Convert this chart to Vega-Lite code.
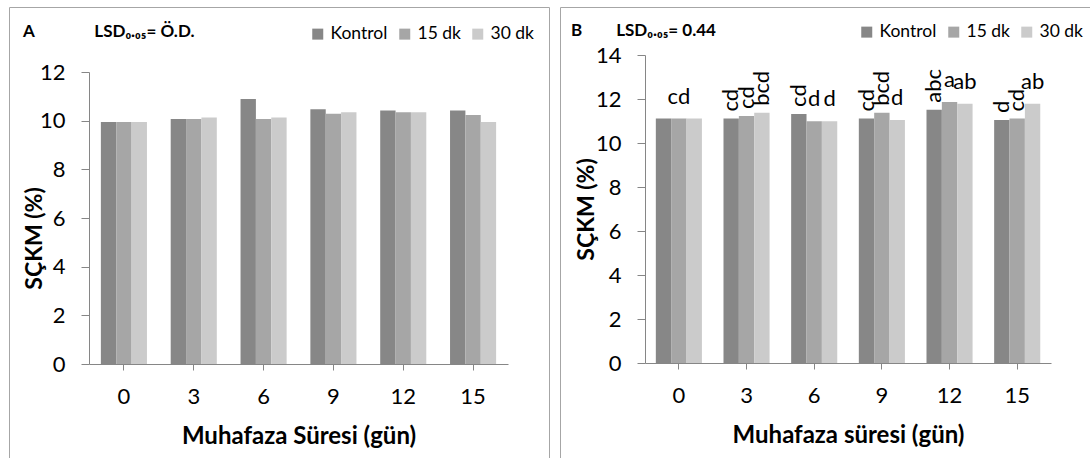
{
  "$schema": "https://vega.github.io/schema/vega-lite/v6.json",
  "padding": {"left": 8, "top": 6, "right": 0, "bottom": 0},
  "autosize": {"type": "pad"},
  "spacing": 9,
  "background": "white",
  "resolve": {"scale": {"color": "independent"}, "legend": {"color": "independent"}},
  "datasets": {
    "A": [
      {"gun": "0", "grup": "Kontrol", "deger": 9.95},
      {"gun": "0", "grup": "15 dk", "deger": 9.95},
      {"gun": "0", "grup": "30 dk", "deger": 9.95},
      {"gun": "3", "grup": "Kontrol", "deger": 10.07},
      {"gun": "3", "grup": "15 dk", "deger": 10.07},
      {"gun": "3", "grup": "30 dk", "deger": 10.13},
      {"gun": "6", "grup": "Kontrol", "deger": 10.89},
      {"gun": "6", "grup": "15 dk", "deger": 10.07},
      {"gun": "6", "grup": "30 dk", "deger": 10.13},
      {"gun": "9", "grup": "Kontrol", "deger": 10.47},
      {"gun": "9", "grup": "15 dk", "deger": 10.28},
      {"gun": "9", "grup": "30 dk", "deger": 10.35},
      {"gun": "12", "grup": "Kontrol", "deger": 10.42},
      {"gun": "12", "grup": "15 dk", "deger": 10.35},
      {"gun": "12", "grup": "30 dk", "deger": 10.35},
      {"gun": "15", "grup": "Kontrol", "deger": 10.42},
      {"gun": "15", "grup": "15 dk", "deger": 10.23},
      {"gun": "15", "grup": "30 dk", "deger": 9.95}
    ],
    "B": [
      {"gun": "0", "grup": "Kontrol", "deger": 11.11, "harf": "", "yon": "yok"},
      {"gun": "0", "grup": "15 dk", "deger": 11.11, "harf": "cd", "yon": "yatay"},
      {"gun": "0", "grup": "30 dk", "deger": 11.11, "harf": "", "yon": "yok"},
      {"gun": "3", "grup": "Kontrol", "deger": 11.11, "harf": "cd", "yon": "dikey"},
      {"gun": "3", "grup": "15 dk", "deger": 11.23, "harf": "cd", "yon": "dikey"},
      {"gun": "3", "grup": "30 dk", "deger": 11.37, "harf": "bcd", "yon": "dikey"},
      {"gun": "6", "grup": "Kontrol", "deger": 11.32, "harf": "cd", "yon": "dikey"},
      {"gun": "6", "grup": "15 dk", "deger": 10.99, "harf": "d", "yon": "yatay"},
      {"gun": "6", "grup": "30 dk", "deger": 10.99, "harf": "d", "yon": "yatay"},
      {"gun": "9", "grup": "Kontrol", "deger": 11.11, "harf": "cd", "yon": "dikey"},
      {"gun": "9", "grup": "15 dk", "deger": 11.37, "harf": "bcd", "yon": "dikey"},
      {"gun": "9", "grup": "30 dk", "deger": 11.05, "harf": "d", "yon": "yatay"},
      {"gun": "12", "grup": "Kontrol", "deger": 11.51, "harf": "abc", "yon": "dikey"},
      {"gun": "12", "grup": "15 dk", "deger": 11.86, "harf": "a", "yon": "yatay"},
      {"gun": "12", "grup": "30 dk", "deger": 11.78, "harf": "ab", "yon": "yatay"},
      {"gun": "15", "grup": "Kontrol", "deger": 11.05, "harf": "d", "yon": "dikey"},
      {"gun": "15", "grup": "15 dk", "deger": 11.11, "harf": "cd", "yon": "dikey"},
      {"gun": "15", "grup": "30 dk", "deger": 11.78, "harf": "ab", "yon": "yatay"}
    ]
  },
  "config": {
    "font": "Lato",
    "view": {"stroke": "#a6a6a6", "strokeWidth": 1},
    "axis": {
      "grid": false,
      "domainColor": "#868686",
      "tickColor": "#868686",
      "labelColor": "black",
      "titleColor": "black",
      "labelFont": "Lato",
      "titleFont": "Lato",
      "labelFontSize": 22,
      "titleFontSize": 23,
      "titleFontWeight": "bold",
      "labelFontWeight": "normal"
    },
    "legend": {
      "orient": "none",
      "direction": "horizontal",
      "symbolType": "square",
      "symbolSize": 121,
      "symbolStrokeWidth": 0,
      "symbolOpacity": 1,
      "labelFont": "Lato",
      "labelFontSize": 17.5,
      "labelColor": "black",
      "labelOffset": 4,
      "columnPadding": 8,
      "padding": 0,
      "title": null
    },
    "title": {
      "font": "Lato",
      "fontSize": 17,
      "fontWeight": "bold",
      "color": "black",
      "anchor": "start",
      "frame": "group",
      "offset": 0,
      "baseline": "alphabetic"
    }
  },
  "hconcat": [
    {
      "width": 540,
      "height": 451,
      "title": {"text": "A\u2003\u2003\u2003\u2003\u2002LSD₀.₀₅= Ö.D.", "dx": 14, "dy": 38, "fontSize": 17},
      "data": {"name": "A"},
      "mark": {"type": "bar"},
      "encoding": {
        "x": {
          "field": "gun", "type": "nominal", "sort": ["0", "3", "6", "9", "12", "15"],
          "scale": {"range": [80, 499], "paddingInner": 0.34, "paddingOuter": 0.17},
          "axis": {"orient": "bottom", "offset": -94, "labelAngle": 0, "tickSize": 6, "labelPadding": 16, "titlePadding": 17, "titleFontSize": 24, "title": "Muhafaza Süresi (gün)"}
        },
        "xOffset": {
          "field": "grup", "type": "nominal",
          "scale": {"domain": ["Kontrol", "15 dk", "30 dk"], "paddingInner": 0, "paddingOuter": 0}
        },
        "y": {
          "field": "deger", "type": "quantitative",
          "scale": {"domain": [0, 12], "range": [357, 65], "nice": false, "zero": true},
          "axis": {"orient": "left", "offset": -80, "values": [0, 2, 4, 6, 8, 10, 12], "tickSize": 8, "labelPadding": 16, "title": "SÇKM (%)", "titleX": -43, "titleY": 231}
        },
        "color": {
          "field": "grup", "type": "nominal",
          "scale": {"domain": ["Kontrol", "15 dk", "30 dk"], "range": ["#878787", "#a6a6a6", "#cbcbcb"]},
          "legend": {"legendX": 300, "legendY": 18}
        }
      }
    },
    {
      "width": 530,
      "height": 451,
      "title": {"text": "B\u2003\u2003\u2002LSD₀.₀₅= 0.44", "dx": 11, "dy": 37, "fontSize": 17},
      "data": {"name": "B"},
      "encoding": {
        "x": {
          "field": "gun", "type": "nominal", "sort": ["0", "3", "6", "9", "12", "15"],
          "scale": {"range": [85, 491], "paddingInner": 0.32, "paddingOuter": 0.16},
          "axis": {"orient": "bottom", "offset": -95, "labelAngle": 0, "tickSize": 6, "labelPadding": 16, "titlePadding": 17, "titleFontSize": 24, "title": "Muhafaza süresi (gün)"}
        },
        "xOffset": {
          "field": "grup", "type": "nominal",
          "scale": {"domain": ["Kontrol", "15 dk", "30 dk"], "paddingInner": 0, "paddingOuter": 0}
        },
        "y": {
          "field": "deger", "type": "quantitative",
          "scale": {"domain": [0, 14], "range": [356, 48], "nice": false, "zero": true},
          "axis": {"orient": "left", "offset": -85, "values": [0, 2, 4, 6, 8, 10, 12, 14], "tickSize": 8, "labelPadding": 16, "title": "SÇKM (%)", "titleX": -47, "titleY": 202}
        }
      },
      "layer": [
        {
          "mark": {"type": "bar"},
          "encoding": {
            "color": {
              "field": "grup", "type": "nominal",
              "scale": {"domain": ["Kontrol", "15 dk", "30 dk"], "range": ["#878787", "#a6a6a6", "#cbcbcb"]},
              "legend": {"legendX": 298, "legendY": 16}
            }
          }
        },
        {
          "transform": [{"filter": "datum.yon === 'yatay'"}],
          "mark": {"type": "text", "font": "Lato", "fontSize": 22, "color": "black", "baseline": "alphabetic", "align": "center", "dy": -15},
          "encoding": {"text": {"field": "harf"}}
        },
        {
          "transform": [{"filter": "datum.yon === 'dikey'"}],
          "mark": {"type": "text", "font": "Lato", "fontSize": 22, "color": "black", "baseline": "middle", "align": "left", "angle": 270, "dx": 7},
          "encoding": {"text": {"field": "harf"}}
        }
      ]
    }
  ]
}
